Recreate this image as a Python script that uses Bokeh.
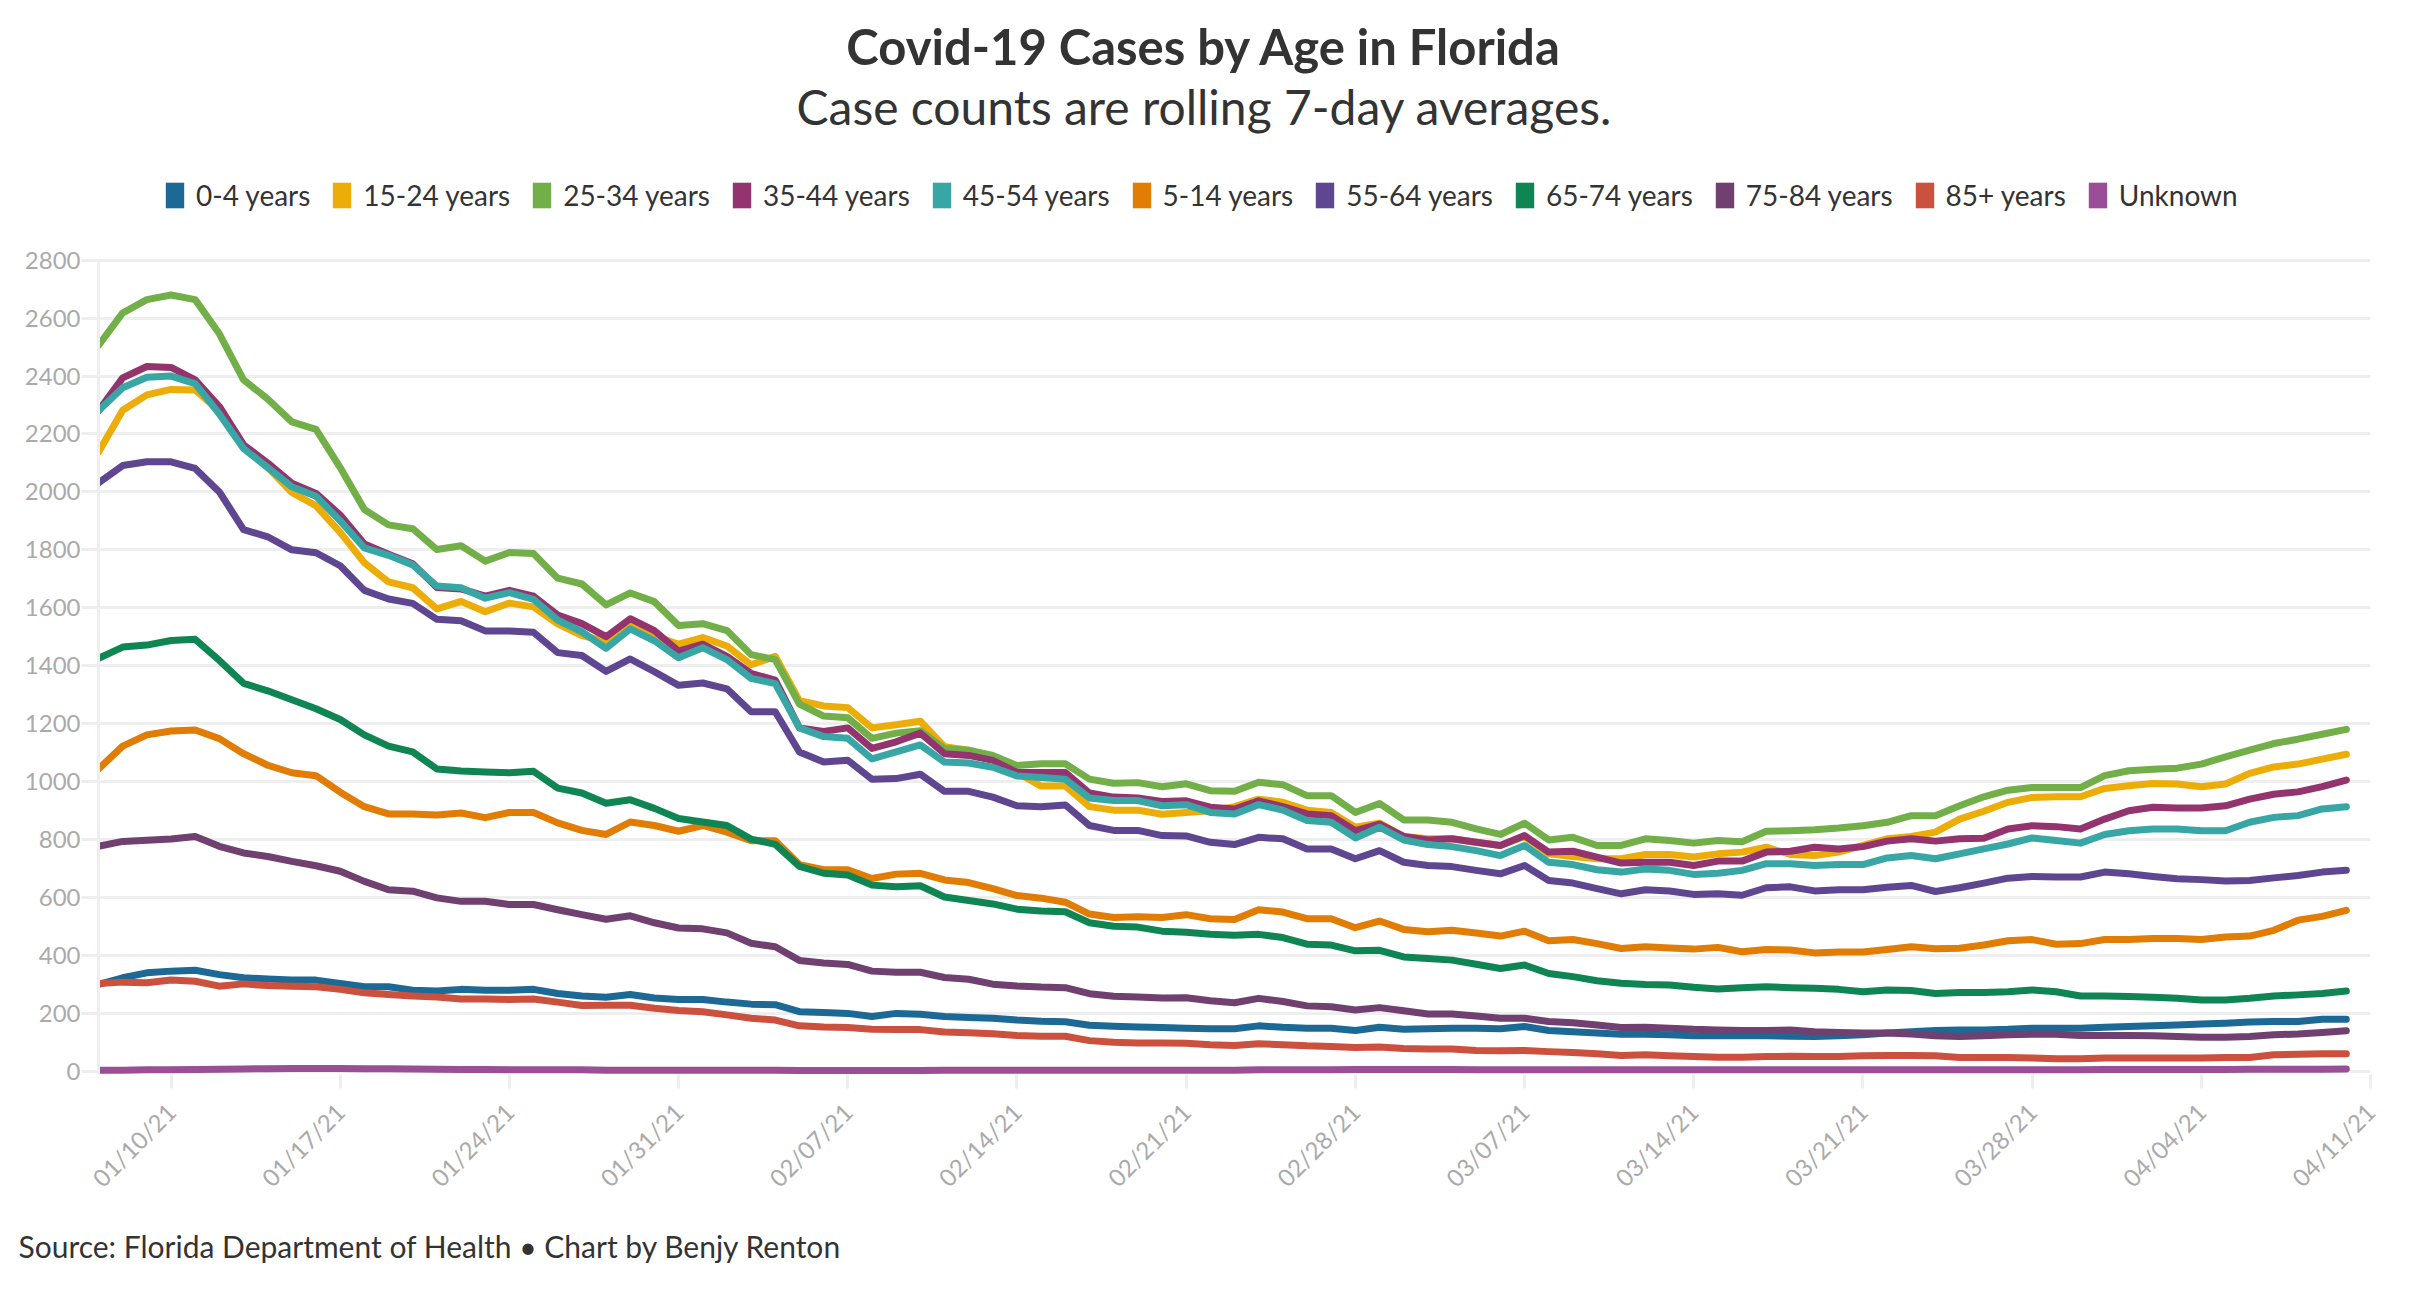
import pandas as pd
from bokeh.plotting import figure
from bokeh.models import (Title, Legend, LegendItem, FixedTicker, Range1d,
                          ColumnDataSource, Label)
from bokeh.embed import file_html
from bokeh.resources import INLINE
import math

START_DATE = "2021-01-07"

tick_labels = ["01/10/21", "01/17/21", "01/24/21", "01/31/21", "02/07/21",
               "02/14/21", "02/21/21", "02/28/21", "03/07/21", "03/14/21",
               "03/21/21", "03/28/21", "04/04/21", "04/11/21"]
y_ticks = [0, 200, 400, 600, 800, 1000, 1200, 1400, 1600, 1800, 2000,
           2200, 2400, 2600, 2800]

age_0_4 = [299, 322, 339, 345, 348, 333, 322, 318, 314, 314, 302, 291, 291, 279, 276, 282, 279, 279, 282, 268, 259,
           255, 264, 252, 247, 247, 238, 231, 229, 205, 202, 199, 188, 199, 196, 188, 185, 182, 176, 172, 170, 158, 155, 152, 150, 148,
           146, 146, 156, 151, 148, 148, 140, 151, 144, 146, 148, 148, 146, 154, 140, 136, 131, 127, 127, 125, 122, 122, 122, 122, 120,
           119, 122, 125, 131, 136, 140, 142, 142, 144, 148, 148, 148, 151, 154, 156, 159, 162, 165, 169, 171, 171, 179, 179]
age_15_24 = [2137, 2282, 2335, 2354, 2352, 2280, 2155, 2085, 1998, 1952, 1860, 1755, 1689, 1669, 1596, 1622, 1586, 1616, 1603, 1544, 1504, 1484,
             1545, 1503, 1474, 1497, 1468, 1403, 1432, 1279, 1261, 1255, 1185, 1196, 1208, 1120, 1108, 1084, 1031, 984, 984, 913, 901, 901, 887, 893,
             899, 913, 939, 928, 901, 893, 842, 856, 810, 802, 802, 790, 779, 810, 750, 741, 733, 733, 748, 748, 739, 750, 756, 773, 748,
             744, 756, 779, 802, 810, 825, 870, 897, 928, 945, 947, 947, 976, 985, 993, 991, 982, 991, 1028, 1050, 1060, 1077, 1094]
age_25_34 = [2506, 2618, 2664, 2680, 2664, 2546, 2387, 2321, 2242, 2216, 2084, 1939, 1886, 1873, 1801, 1814, 1761, 1791, 1787, 1702, 1682, 1610,
             1651, 1621, 1539, 1545, 1521, 1438, 1421, 1267, 1226, 1220, 1149, 1167, 1175, 1114, 1108, 1090, 1055, 1061, 1061, 1008, 994, 996, 982, 992,
             968, 966, 997, 989, 951, 951, 893, 924, 867, 867, 859, 836, 817, 856, 798, 807, 779, 779, 802, 796, 787, 796, 792, 828, 830,
             833, 839, 847, 859, 882, 882, 916, 947, 970, 979, 979, 979, 1020, 1037, 1042, 1046, 1060, 1085, 1108, 1131, 1146, 1163, 1180]
age_35_44 = [2280, 2394, 2433, 2430, 2387, 2295, 2163, 2100, 2030, 1995, 1920, 1820, 1785, 1752, 1670, 1665, 1640, 1660, 1640, 1575, 1545, 1500,
             1562, 1521, 1450, 1474, 1432, 1373, 1350, 1185, 1173, 1185, 1114, 1137, 1167, 1096, 1090, 1073, 1031, 1031, 1031, 960, 946, 943, 931, 933,
             911, 905, 933, 913, 888, 882, 830, 853, 810, 798, 802, 790, 779, 813, 756, 759, 739, 718, 721, 721, 710, 725, 725, 756, 759,
             773, 767, 775, 794, 802, 794, 802, 804, 836, 847, 844, 836, 870, 899, 911, 908, 908, 916, 939, 956, 964, 982, 1005]
age_45_54 = [2280, 2360, 2396, 2400, 2374, 2269, 2150, 2084, 2018, 1985, 1900, 1807, 1781, 1748, 1675, 1669, 1633, 1652, 1629, 1557, 1517, 1460,
             1527, 1486, 1427, 1462, 1421, 1356, 1338, 1185, 1155, 1149, 1078, 1102, 1126, 1067, 1064, 1049, 1019, 1014, 1008, 943, 934, 934, 916, 920,
             893, 888, 920, 901, 865, 859, 805, 842, 798, 782, 775, 761, 744, 779, 721, 713, 695, 687, 698, 693, 679, 683, 693, 716, 716,
             710, 713, 713, 736, 744, 733, 750, 767, 784, 805, 796, 787, 817, 830, 836, 836, 830, 830, 859, 876, 882, 905, 913]
age_5_14 = [1043, 1122, 1161, 1174, 1178, 1148, 1096, 1056, 1030, 1020, 963, 913, 888, 888, 884, 891, 875, 893, 893, 857, 831, 817,
            860, 848, 828, 848, 825, 795, 795, 713, 695, 695, 665, 680, 683, 660, 651, 630, 606, 597, 583, 542, 530, 533, 530, 540,
            526, 523, 557, 549, 526, 526, 495, 518, 489, 481, 486, 477, 466, 483, 450, 454, 440, 423, 429, 425, 421, 427, 412, 420, 418,
            408, 411, 411, 420, 429, 422, 424, 435, 450, 454, 438, 440, 454, 454, 458, 458, 454, 463, 466, 486, 521, 534, 555]
age_55_64 = [2031, 2091, 2104, 2104, 2081, 2000, 1870, 1845, 1800, 1790, 1745, 1660, 1630, 1615, 1560, 1555, 1520, 1520, 1515, 1445, 1435, 1380,
             1423, 1379, 1332, 1340, 1320, 1241, 1241, 1102, 1067, 1073, 1008, 1010, 1025, 966, 966, 946, 916, 913, 919, 848, 831, 831, 813, 812,
             790, 782, 807, 802, 767, 767, 733, 761, 721, 710, 706, 693, 681, 710, 658, 649, 630, 612, 626, 622, 610, 612, 607, 633, 636,
             622, 626, 626, 635, 641, 620, 633, 649, 666, 672, 670, 670, 687, 681, 672, 664, 661, 656, 658, 667, 675, 687, 693]
age_65_74 = [1425, 1464, 1471, 1487, 1491, 1418, 1339, 1313, 1282, 1251, 1214, 1161, 1122, 1102, 1043, 1036, 1033, 1030, 1035, 977, 960, 925,
             937, 907, 872, 860, 848, 801, 783, 707, 683, 677, 642, 636, 640, 601, 589, 577, 559, 553, 550, 512, 500, 497, 483, 479,
             472, 469, 472, 461, 438, 435, 415, 417, 394, 389, 383, 369, 354, 366, 337, 326, 312, 303, 299, 297, 289, 283, 288, 291, 288,
             286, 282, 274, 280, 278, 268, 271, 271, 274, 280, 274, 259, 259, 257, 255, 251, 245, 245, 251, 259, 263, 268, 276]
age_75_84 = [776, 793, 797, 801, 810, 776, 753, 741, 724, 709, 690, 655, 626, 621, 598, 586, 586, 575, 575, 557, 540,
             524, 536, 512, 494, 491, 477, 441, 429, 382, 373, 368, 345, 341, 341, 323, 317, 300, 294, 290, 288, 267, 258, 256, 252, 253,
             243, 236, 251, 240, 225, 222, 211, 219, 208, 197, 197, 190, 182, 182, 171, 167, 159, 150, 151, 148, 144, 142, 140, 140, 142,
             136, 133, 131, 131, 128, 122, 119, 122, 125, 127, 127, 123, 123, 123, 122, 119, 117, 117, 119, 125, 128, 133, 139]
age_85_plus = [302, 307, 305, 314, 310, 293, 301, 295, 293, 291, 282, 270, 264, 259, 256, 249, 249, 247, 249, 238, 226,
               227, 227, 217, 209, 205, 194, 182, 176, 156, 152, 150, 144, 143, 143, 135, 132, 129, 123, 120, 120, 105, 99, 97, 97, 96,
               91, 88, 94, 91, 87, 85, 81, 83, 78, 76, 76, 71, 70, 71, 67, 64, 60, 54, 56, 53, 50, 48, 48, 50, 51,
               50, 50, 53, 54, 54, 53, 47, 47, 47, 45, 42, 42, 45, 45, 45, 45, 45, 47, 47, 56, 58, 60, 60]
unknown = [3, 3, 4, 4, 5, 6, 7, 8, 9, 9,
           9, 8, 8, 7, 6, 5, 5, 4, 4, 4,
           4, 3, 3, 3, 3, 3, 3, 3, 3, 2,
           2, 2, 2, 2, 2, 3, 3, 3, 3, 3,
           3, 3, 3, 3, 3, 3, 3, 3, 4, 4,
           4, 4, 5, 5, 5, 5, 5, 4, 4, 4,
           4, 4, 4, 4, 4, 4, 4, 4, 4, 4,
           4, 4, 4, 4, 4, 4, 4, 4, 4, 4,
           4, 4, 4, 5, 5, 5, 5, 5, 5, 6,
           6, 6, 6, 7]

series_names = ["0-4 years", "15-24 years", "25-34 years", "35-44 years", "45-54 years",
                "5-14 years", "55-64 years", "65-74 years", "75-84 years", "85+ years", "Unknown"]
series_values = [age_0_4, age_15_24, age_25_34, age_35_44, age_45_54, age_5_14,
                 age_55_64, age_65_74, age_75_84, age_85_plus, unknown]
series_colors = ["#1d6996", "#edad08", "#73af48", "#94346e", "#38a6a5", "#e17c05",
                 "#5f4690", "#0f8554", "#6f4070", "#cc503e", "#994e95"]

TITLE = "Covid-19 Cases by Age in Florida"
SUBTITLE = "Case counts are rolling 7-day averages."
FOOTER = "Source: Florida Department of Health \u2022 Chart by Benjy Renton"

FONT = "Lato"
W, H = 2408, 1284
BORDER_L, BORDER_R = 98, 38
FRAME_W = W - BORDER_L - BORDER_R
PLOT_TOP = 257            # figure px where the chart area (2812) starts
FRAME_BOTTOM = 1077       # figure px of the frame bottom (Y_MIN)
BORDER_B = H - FRAME_BOTTOM

n = max(len(v) for v in series_values)
dates = pd.date_range(START_DATE, periods=n, freq="D")
tick_dates = pd.to_datetime(tick_labels, format="%m/%d/%y")
tick_ms = [int(t.value // 10**6) for t in tick_dates]

Y_MIN, Y_PLOT_MAX = -12, 2812
UNITS_PER_PX = (Y_PLOT_MAX - Y_MIN) / (FRAME_BOTTOM - PLOT_TOP)
Y_TOP = Y_MIN + FRAME_BOTTOM * UNITS_PER_PX   # frame reaches the top of the figure
X0 = int(dates[0].value // 10**6)
X1 = tick_ms[-1]


def px_to_x(px):
    """figure-pixel x -> data x (ms)"""
    return X0 + (px - BORDER_L) * (X1 - X0) / FRAME_W


def px_to_y(py):
    """figure-pixel y (from top) -> data y"""
    return Y_MIN + (FRAME_BOTTOM - py) * UNITS_PER_PX


p = figure(width=W, height=H, x_axis_type="datetime",
           output_backend="svg", toolbar_location=None, title=None,
           x_range=Range1d(X0, X1), y_range=Range1d(Y_MIN, Y_TOP),
           min_border_left=BORDER_L, min_border_right=BORDER_R,
           min_border_top=0, min_border_bottom=BORDER_B)
p.outline_line_color = None
p.background_fill_color = "white"
p.border_fill_color = "white"

p.xgrid.grid_line_color = None
p.ygrid.ticker = FixedTicker(ticks=y_ticks)
p.ygrid.grid_line_color = "#eeeeee"
p.ygrid.grid_line_width = 3

p.yaxis.ticker = FixedTicker(ticks=y_ticks)
p.yaxis.bounds = (Y_MIN, y_ticks[-1])
p.yaxis.axis_line_color = "#eeeeee"
p.yaxis.axis_line_width = 3
p.yaxis.major_tick_line_color = "#eeeeee"
p.yaxis.major_tick_line_width = 3
p.yaxis.major_tick_out = 17
p.yaxis.major_tick_in = 0
p.yaxis.minor_tick_line_color = None
p.yaxis.major_label_standoff = 1
p.yaxis.major_label_text_font = FONT
p.yaxis.major_label_text_font_size = "24px"
p.yaxis.major_label_text_color = "#aaaaaa"

p.xaxis.ticker = FixedTicker(ticks=tick_ms)
p.xaxis.major_label_overrides = {ms: lab for ms, lab in zip(tick_ms, tick_labels)}
p.xaxis.axis_line_color = None
p.xaxis.major_tick_line_color = "#eeeeee"
p.xaxis.major_tick_line_width = 3
p.xaxis.major_tick_out = 14
p.xaxis.major_tick_in = 0
p.xaxis.minor_tick_line_color = None
p.xaxis.major_label_orientation = math.pi / 4
p.xaxis.major_label_standoff = 19
p.xaxis.major_label_text_font = FONT
p.xaxis.major_label_text_font_size = "24px"
p.xaxis.major_label_text_color = "#aaaaaa"

items = []
for name, vals, col in zip(series_names, series_values, series_colors):
    src = ColumnDataSource(dict(date=dates[:len(vals)], cases=vals))
    p.line("date", "cases", source=src, line_color=col, line_width=7,
           line_join="round", line_cap="round")
    # legend swatch renderer: a block kept far below the visible y range
    sw = ColumnDataSource(dict(l=[X0], r=[X0], t=[Y_MIN * 50], b=[Y_MIN * 60]))
    r = p.quad(left="l", right="r", top="t", bottom="b", source=sw,
               fill_color=col, line_color=None)
    items.append(LegendItem(label=name, renderers=[r]))

# legend in the header band: (x, y) in px from the frame's bottom-left corner
legend = Legend(items=items, orientation="horizontal",
                location=(65, FRAME_BOTTOM - 215),
                margin=0, padding=0, spacing=20, label_standoff=10,
                glyph_width=23, glyph_height=32, label_height=32,
                label_text_font=FONT, label_text_font_size="28px",
                label_text_color="#333333", border_line_color=None,
                background_fill_alpha=0)
p.add_layout(legend)

p.add_layout(Label(x=px_to_x(1204), y=px_to_y(46), text=TITLE, text_align="center",
                   text_baseline="alphabetic", text_font=FONT,
                   text_font_size="49px", text_font_style="bold",
                   text_color="#333333"))
p.add_layout(Label(x=px_to_x(1204), y=px_to_y(106), text=SUBTITLE, text_align="center",
                   text_baseline="alphabetic", text_font=FONT,
                   text_font_size="48px", text_font_style="normal",
                   text_color="#333333"))

footer = Title(text=FOOTER, align="left", offset=-80, standoff=41,
               text_font=FONT, text_font_size="30px",
               text_font_style="normal", text_color="#333333")
p.add_layout(footer, "below")

open("out.html", "w").write(file_html(p, INLINE))
